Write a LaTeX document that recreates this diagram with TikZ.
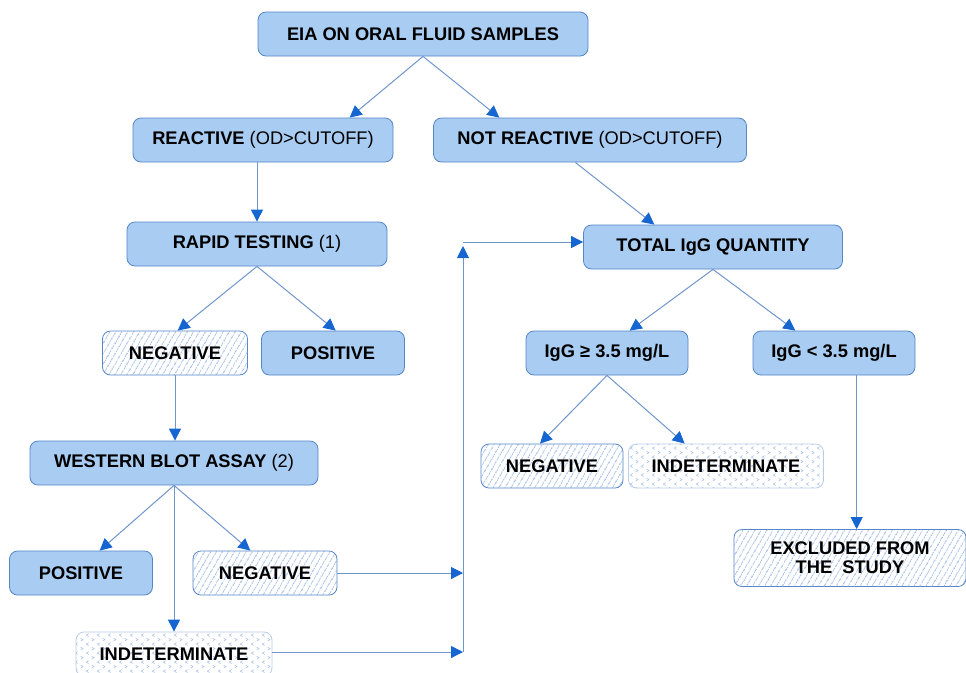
\documentclass[tikz,border=0pt]{standalone}
\usepackage{fontspec}
\setmainfont{Liberation Sans}
\usetikzlibrary{arrows.meta,patterns.meta}

\definecolor{boxfill}{RGB}{168,204,242}
\definecolor{boxline}{RGB}{84,134,200}
\definecolor{linkline}{RGB}{112,150,204}
\definecolor{tipblue}{RGB}{22,102,210}
\definecolor{hatchblue}{RGB}{120,160,220}
\definecolor{lightline}{RGB}{186,206,234}
\definecolor{chevblue}{RGB}{170,195,230}

\pgfdeclarepattern{
  name=chevrons,
  type=uncolored,
  bottom left={\pgfpoint{0pt}{0pt}},
  top right={\pgfpoint{8pt}{7pt}},
  tile size={\pgfpoint{8pt}{7pt}},
  code={
    \pgfsetlinewidth{0.45pt}
    \pgfpathmoveto{\pgfpoint{2.8pt}{0.4pt}}
    \pgfpathlineto{\pgfpoint{1pt}{1.5pt}}
    \pgfpathlineto{\pgfpoint{2.8pt}{2.6pt}}
    \pgfpathmoveto{\pgfpoint{5.2pt}{3.9pt}}
    \pgfpathlineto{\pgfpoint{7pt}{5pt}}
    \pgfpathlineto{\pgfpoint{5.2pt}{6.1pt}}
    \pgfusepath{stroke}
  }
}

\begin{document}
\begin{tikzpicture}[x=0.75pt, y=-0.75pt,
    every node/.style={font=\fontsize{13.7}{15}\selectfont, inner sep=0pt},
    boxw/.style={minimum width=#1*0.75pt},
    boxh/.style={minimum height=#1*0.75pt},
    solidbox/.style={draw=boxline, fill=boxfill, rounded corners=6pt, line width=0.6pt, boxh=44},
    hatchbox/.style={draw=boxline, fill=white, rounded corners=6pt, line width=0.6pt, boxh=44,
      postaction={pattern={Lines[angle=60,distance=4pt,line width=0.55pt]}, pattern color=hatchblue}},
    dotbox/.style={draw=lightline, fill=white, rounded corners=6pt, line width=0.6pt, boxh=44,
      postaction={pattern=chevrons, pattern color=chevblue}},
    link/.style={draw=linkline, line width=0.75pt,
      -{Triangle[length=9pt,width=9pt,color=tipblue,fill=tipblue]}},
    plain/.style={draw=linkline, line width=0.75pt}]
  \useasboundingbox[fill=white] (0,0) rectangle (966,672);

  % top of the tree
  \node[solidbox, boxw=330] (eia) at (423,34) {\bfseries EIA ON ORAL FLUID SAMPLES};
  \node[solidbox, boxw=260] (react) at (263,140) {\bfseries REACTIVE \mdseries(OD>CUTOFF)};
  \node[solidbox, boxw=313] (notr) at (590,140) {\bfseries NOT REACTIVE \mdseries(OD>CUTOFF)};

  % reactive branch
  \node[solidbox, boxw=260] (rapid) at (257,244) {\bfseries RAPID TESTING \mdseries(1)};
  \node[hatchbox, boxw=145] (neg1) at (175,353) {\bfseries NEGATIVE};
  \node[solidbox, boxw=143] (pos1) at (333,353) {\bfseries POSITIVE};
  \node[solidbox, boxw=288] (wb) at (174,463) {\bfseries WESTERN BLOT ASSAY \mdseries(2)};
  \node[solidbox, boxw=143] (pos2) at (81,573) {\bfseries POSITIVE};
  \node[hatchbox, boxw=144] (neg2) at (265,573) {\bfseries NEGATIVE};
  \node[dotbox, boxw=196] (ind2) at (174,654) {\bfseries INDETERMINATE};

  % not reactive branch
  \node[solidbox, boxw=259] (total) at (713,247) {\bfseries TOTAL IgG QUANTITY};
  \node[solidbox, boxw=162] (ge) at (607,353) {\bfseries IgG ≥ 3.5 mg/L};
  \node[solidbox, boxw=162] (lt) at (834,353) {\bfseries IgG < 3.5 mg/L};
  \node[hatchbox, boxw=142] (neg3) at (552,466) {\bfseries NEGATIVE};
  \node[dotbox, boxw=195] (ind3) at (726,466) {\bfseries INDETERMINATE};
  \node[hatchbox, boxw=232, boxh=57, align=center] (excl) at (850,558)
    {\bfseries EXCLUDED FROM\\[-1pt]\bfseries THE\ \ STUDY};

  \coordinate (j1) at (463,573);
  \coordinate (j2) at (463,652);
  \coordinate (j3) at (463,242);

  % connectors
  \draw[link] (eia.south) -- ([xshift=65pt]react.north);
  \draw[link] (eia.south) -- ([xshift=-68pt]notr.north);
  \draw[link] (react.south -| rapid.north) -- (rapid.north);
  \draw[link] ([xshift=-11pt]notr.south) -- ([xshift=-44pt]total.north);
  \draw[link] (rapid.south) -- ([xshift=2pt]neg1.north);
  \draw[link] (rapid.south) -- ([xshift=2pt]pos1.north);
  \draw[link] (neg1.south) -- (neg1.south |- wb.north);
  \draw[link] (wb.south) -- ([xshift=14pt]pos2.north);
  \draw[link] (wb.south) -- ([xshift=-11pt]neg2.north);
  \draw[link] (wb.south) -- (ind2.north);
  \draw[link] (neg2.east) -- (j1);
  \draw[link] (ind2.east |- j2) -- (j2);
  \draw[link] (j2) -- ([yshift=-3pt]j3);
  \draw[link] (j3) -- (total.west |- j3);
  \draw[link] (total.south) -- ([xshift=17pt]ge.north);
  \draw[link] (total.south) -- ([xshift=-29pt]lt.north);
  \draw[link] (ge.south) -- ([xshift=-9pt]neg3.north);
  \draw[link] (ge.south) -- ([xshift=-31pt]ind3.north);
  \draw[link] ([xshift=17pt]lt.south) -- ([xshift=17pt]lt.south |- excl.north);
\end{tikzpicture}
\end{document}
